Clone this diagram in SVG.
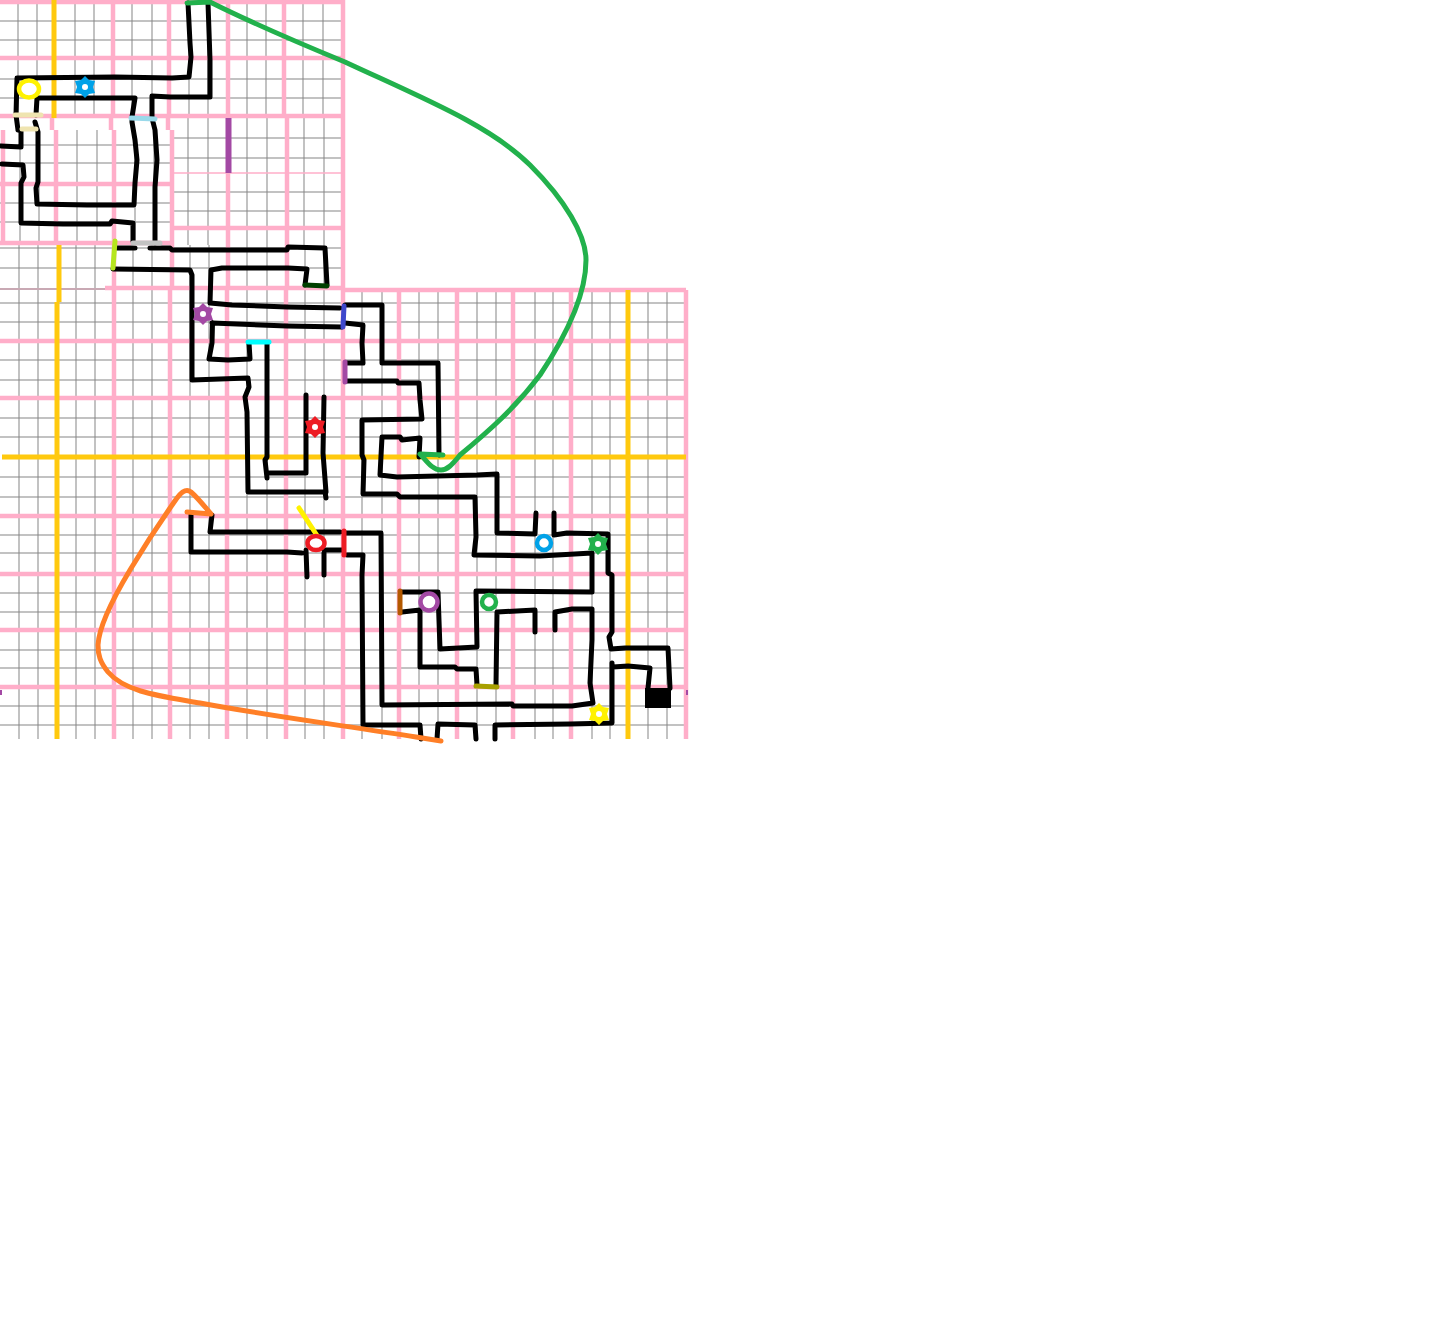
<svg xmlns="http://www.w3.org/2000/svg" width="1432" height="1344" viewBox="0 0 1432 1344">
<style>
.g{fill:none;stroke:#858585;stroke-width:1}
.p{fill:none;stroke:#ffaec9;stroke-width:4.500}
.o{fill:none;stroke:#ffc90e;stroke-width:5}
.k{fill:none;stroke:#000;stroke-width:5;stroke-linejoin:round;stroke-linecap:round}
.m{fill:none;stroke-width:5;stroke-linecap:round;stroke-linejoin:round}
.r{fill:#fff;stroke-width:4.500}
</style>
<defs>
<g id="star"><polygon points="0,-11 4,-7 10,-6 8,0 10,6 4,7 0,11 -4,7 -10,6 -8,0 -10,-6 -4,-7"/><circle r="3" fill="#fff"/></g>
</defs>
<rect width="1432" height="1344" fill="#fff"/>
<g id="grid-gray">
<path class="g" d="M18 0V116M37 0V116M75 0V116M94 0V116M132 0V116M152 0V116M189 0V116M208 0V116M247 0V116M266 0V116M303 0V116M323 0V116M0 21H344M0 40H344M0 79H344M0 98H344"/>
<path class="g" d="M20 130V245M39 130V245M77 130V245M97 130V245M135 130V245M154 130V245M0 145H172M0 163H172M0 203H172M0 222H172"/>
<path class="g" d="M188 118V245M208 118V245M247 118V245M267 118V245M304 118V245M324 118V245M172 138H344M172 158H344M172 192H344M172 211H344"/>
<path class="g" d="M19 245V290M38 245V290M76 245V290M95 245V290M133 245V290M152 245V290M190 245V290M209 245V290M247 245V290M267 245V290M305 245V290M324 245V290M0 248H344M0 268H344"/>
<path class="g" d="M19 290V740M38 290V740M76 290V740M95 290V740M133 290V740M152 290V740M190 290V740M209 290V740M247 290V740M267 290V740M305 290V740M324 290V740M362 290V740M382 290V740M419 290V740M438 290V740M477 290V740M496 290V740M535 290V740M553 290V740M592 290V740M610 290V740M648 290V740M667 290V740"/>
<path class="g" d="M0 303H686M0 322H686M0 360H686M0 380H686M0 418H686M0 437H686M0 477H686M0 497H686M0 535H686M0 553H686M0 593H686M0 612H686M0 650H686M0 668H686M0 706H686M0 725H686"/>
</g>
<g id="grid-pink">
<path class="p" d="M0 2H344M0 58H344M0 116H344M113 0V116M169 0V116M228 0V116M284 0V116M343 0V290"/>
<path class="p" d="M3 130V245M56 130V245M114 130V245M172 130V245M0 184H172M0 243H172M52 118V130M111 118V130M168 118V130"/>
<path class="p" d="M287 118V290M228 173V290M172 228H344M114 245V290M172 245V290M105 288H344"/>
<path class="p" d="M344 290H686M114 290V740M170 290V740M227 290V740M286 290V740M343 290V740M399 290V740M457 290V740M513 290V740M571 290V740M686 290V740M0 341H686M0 398H686M0 516H686M0 574H686M0 630H686M0 687H686"/>
<path d="M172 173H344" fill="none" stroke="#ffaec9" stroke-width="1.5"/>
<path d="M0 289H105" fill="none" stroke="#c9a9b4" stroke-width="2"/>
<path class="o" d="M54 0V118M59 245V302M57 302V740M628 290V740M2 457H686"/>
<rect x="0" y="739" width="690" height="6" fill="#fff"/>
<rect x="0" y="690" width="2" height="5" fill="#a349a4"/><rect x="686" y="690" width="2" height="5" fill="#a349a4"/>
</g>
<g id="walls">
<path class="k" d="M188 3L190 43L191 57L189 77L172 78L115 77L17 78L16 115L18 130M18 130L21 131L21 147L1 146"/>
<path class="k" d="M208 3L210 60L210 97L170 97L152 96L152 117L153 122L155 130L157 160L155 187L155 243"/>
<path class="k" d="M36 115L37 98L135 98L132 117L132 122L135 140L137 160L135 183L134 205L87 205L37 204L36 188L38 182L38 132L35 122"/>
<path class="k" d="M2 164L23 165L24 177L21 183L21 223L63 224L110 224L112 221L133 223L133 241"/>
<path class="k" d="M117 248L135 248M150 248L170 248L172 250L287 250L288 247L325 248L327 285"/>
<path class="k" d="M113 269L190 270L192 275L192 380L248 378L249 387L245 397L247 412L248 492L325 492L326 498"/>
<path class="k" d="M210 303L211 270L222 268L288 268L307 269L305 285M210 303L232 305L287 307L340 308"/>
<path class="k" d="M212 323L287 326L342 327M212.500 323L212 343L209 359L228 360L250 359L249 343"/>
<path class="k" d="M267 343L267 457L265 460L267 478M267 473L306 473L306 395M324 397L323 453L326 492"/>
<path class="k" d="M345 305L382 305L382 363L438 363L439 455"/>
<path class="k" d="M345 323L363 325L362 343L363 363L346 363"/>
<path class="k" d="M346 381L397 381L398 383L419 383L420 400L422 419L362 420L362 455L364 460L363 494L397 494L400 497L475 497L476 537L474 555L540 556L592 553L592 592L476 591L477 647L440 649L438 592L402 592"/>
<path class="k" d="M419 457L420 438L402 440L400 437L382 437L380 475L397 477L477 475L497 474L497 533L535 534L536 513"/>
<path class="k" d="M554 513L554 535L567 533L608 534L608 573L612 575L612 632L609 637L611 649L625 648L668 648L670 688"/>
<path class="k" d="M612 663L612 723L570 724L495 725L495 739M613 667L628 666L650 668L648 688"/>
<path class="k" d="M402 612L420 610L420 667L455 667L457 669L476 669L477 685"/>
<path class="k" d="M496 685L497 612L535 610L535 632M555 630L555 612L572 609L592 609L592 640L590 683L593 703L572 706L513 706L512 704L382 705L381 533L346 533"/>
<path class="k" d="M347 555L363 555L362 575L363 725L420 725L421 739M437 739L438 724L475 725L476 739"/>
<path class="k" d="M191 515L191 552L287 552L302 553M212 515L210 532L307 532L340 532M306 550L307 577M324 553L324 575M324 550L343 550"/>
<rect x="645" y="688" width="26" height="20"/>
</g>
<g id="doors">
<path class="m" stroke="#efe4b0" d="M15 115H41"/>
<path class="m" stroke="#efe4b0" stroke-width="2" d="M22 129H36"/>
<path class="m" stroke="#99d9ea" stroke-width="4" d="M131 118L155 119"/>
<rect x="225.500" y="118" width="6" height="55" fill="#a349a4"/>
<path class="m" stroke="#b5e61d" d="M115 241L113 268"/>
<path class="m" stroke="#c3c3c3" d="M133 243H160"/>
<path class="m" stroke="#004000" d="M305 285L327 286"/>
<path class="m" stroke="#3f48cc" stroke-width="6" d="M344 306L343 327"/>
<path class="m" stroke="#a349a4" stroke-width="3" d="M345 362V382"/>
<path class="m" stroke="#00ffff" stroke-width="3" d="M248 342H269"/>
<path class="m" stroke="#ed1c24" stroke-width="5" d="M344 531V555"/>
<path class="m" stroke="#b35900" stroke-width="5" d="M400 591V613"/>
<path class="m" stroke="#a8a000" d="M476 686L497 687"/>
<path class="m" stroke="#fff200" d="M299 508L318 537"/>
</g>
<g id="keys">
<ellipse class="r" stroke="#fff200" cx="29" cy="89" rx="10" ry="8.500"/>
<use href="#star" x="85" y="87" fill="#00a2e8"/>
<use href="#star" x="203" y="314" fill="#a349a4"/>
<use href="#star" x="315" y="427" fill="#ed1c24"/>
<ellipse class="r" stroke="#ed1c24" cx="316" cy="543" rx="8.500" ry="7"/>
<circle class="r" stroke="#00a2e8" cx="544" cy="543" r="7"/>
<use href="#star" x="598" y="544" fill="#22b14c"/>
<circle class="r" stroke="#a349a4" cx="429" cy="602" r="8.500"/>
<circle class="r" stroke="#22b14c" cx="489" cy="602" r="7"/>
<use href="#star" x="599" y="714" fill="#fff200"/>
</g>
<g id="curves">
<path class="m" stroke="#22b14c" d="M187 3L210 2C260 27 345 62 345 62C420 97 490 125 530 165C565 200 586 235 586 260C586 300 560 345 540 375C515 408 490 430 460 455C452 465 447 470 441 470C432 470 426 460 420 454L443 455"/>
<path class="m" stroke="#ff7f27" d="M441 741L416 737C340 725 270 716 200 703C160 696 125 692 108 672C100 662 98 655 98 645C99 625 115 595 130 570C148 540 165 515 177 498C183 490 187 489 191 492C197 497 205 507 211 514L187 512"/>
</g>
</svg>
